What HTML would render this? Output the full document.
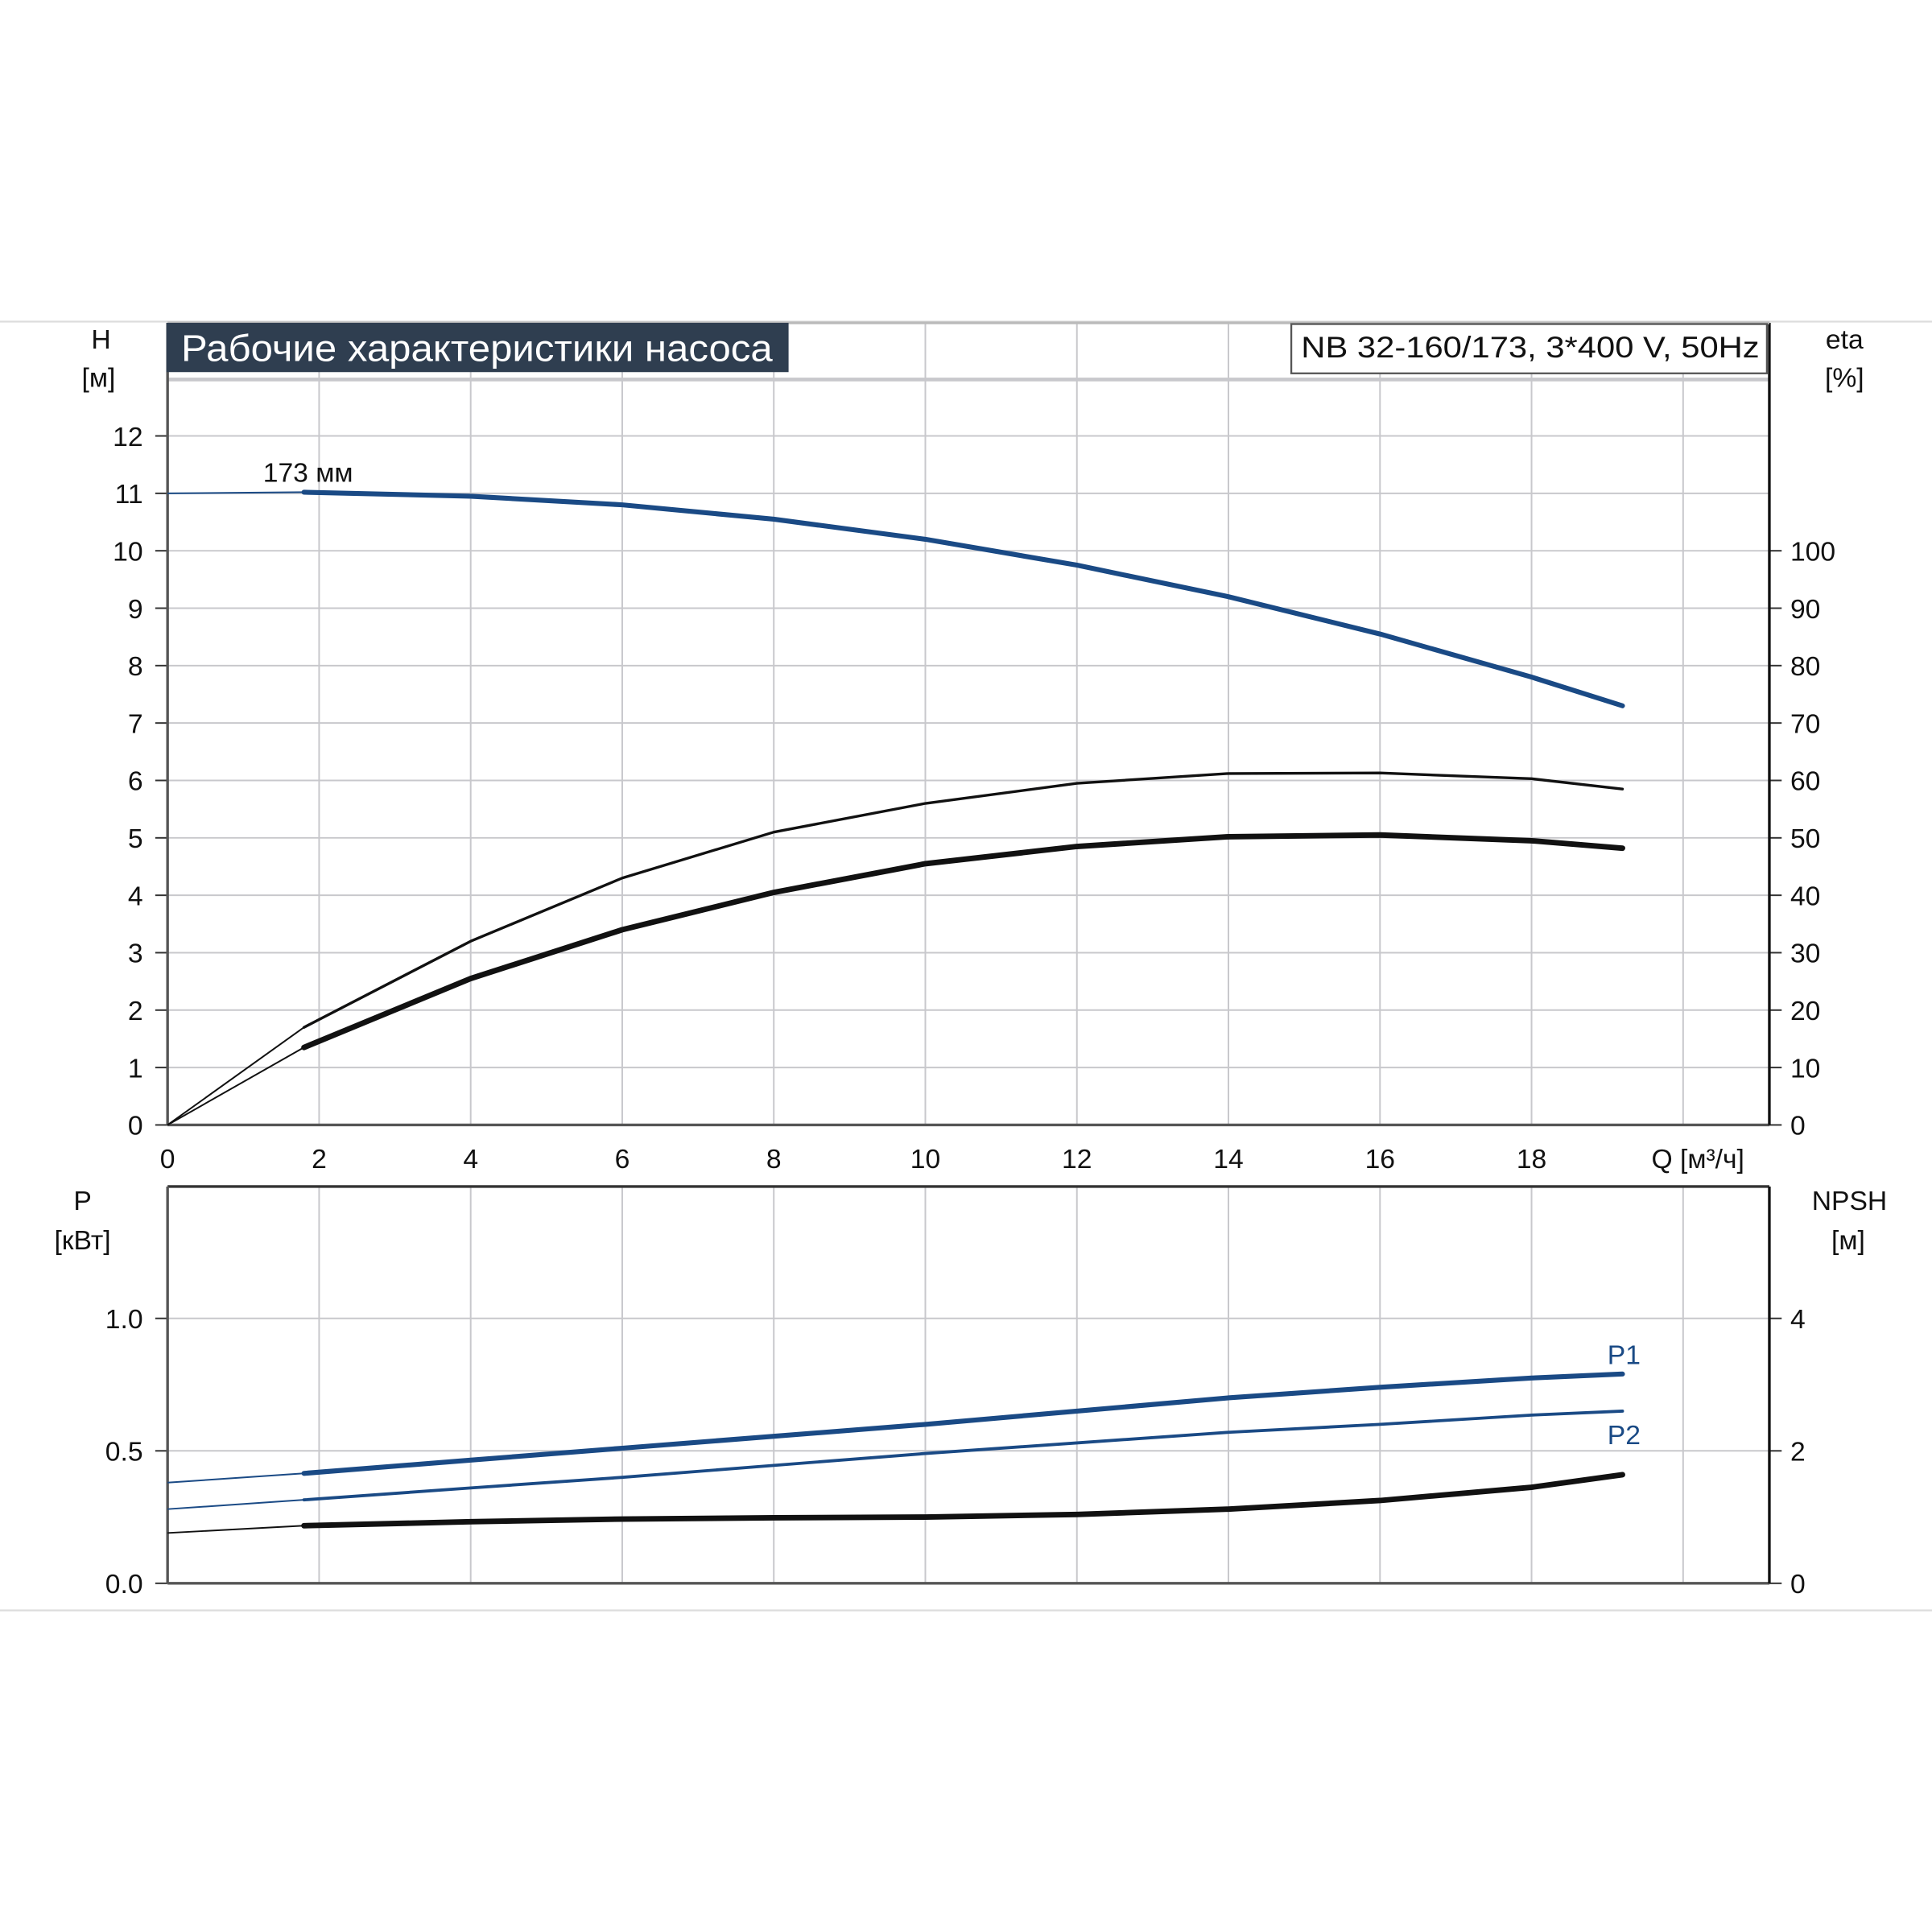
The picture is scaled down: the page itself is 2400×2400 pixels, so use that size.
<!DOCTYPE html>
<html><head><meta charset="utf-8"><style>
html,body{margin:0;padding:0;background:#fff}
svg{display:block}
text{font-family:"Liberation Sans",sans-serif;fill:#111}
</style></head><body>
<svg id="c" width="2400" height="2400" viewBox="0 0 1568 1568" xmlns="http://www.w3.org/2000/svg">
<line x1="0" y1="261" x2="1568" y2="261" stroke="#ddd" stroke-width="1.5"/>
<line x1="0" y1="1307" x2="1568" y2="1307" stroke="#ddd" stroke-width="1.5"/>
<g id="grid"></g>
<g id="curves"></g>
<g id="labels"></g>
<rect x="135" y="262" width="505" height="40" fill="#2f3e50"/>
<text x="147" y="293" font-size="30" style="fill:#fff" textLength="480" lengthAdjust="spacingAndGlyphs">Рабочие характеристики насоса</text>
<rect x="1048" y="263" width="386" height="40" fill="#fff" stroke="#555" stroke-width="1.5"/>
<text x="1056" y="290" font-size="24" textLength="372" lengthAdjust="spacingAndGlyphs">NB 32-160/173, 3*400 V, 50Hz</text>
</svg>
<script>
const qTicks=[0,2,4,6,8,10,12,14,16,18];
const hTicks=[0,1,2,3,4,5,6,7,8,9,10,11,12];
const etaTicks=[0,10,20,30,40,50,60,70,80,90,100];
const pTicks=[0.0,0.5,1.0];
const npshTicks=[0,2,4];
const qPts=[1.8,4,6,8,10,12,14,16,18,19.2];
const headVals=[11.02,10.95,10.8,10.55,10.2,9.75,9.2,8.55,7.8,7.3];
const etaPumpVals=[17,32,43,51,56,59.5,61.2,61.3,60.3,58.5];
const etaTotVals=[13.5,25.5,34,40.5,45.5,48.5,50.2,50.5,49.5,48.2];
const p1Vals=[0.415,0.465,0.51,0.555,0.6,0.65,0.7,0.74,0.775,0.79];
const p2Vals=[0.315,0.36,0.4,0.445,0.49,0.53,0.57,0.6,0.635,0.65];
const npshVals=[0.87,0.93,0.97,0.99,1.0,1.04,1.12,1.25,1.45,1.64];
const headStart=11.0, p1Start=0.38, p2Start=0.28, npshStart=0.76;

const X=q=>136+q*61.5;
const YH=h=>913-h*46.6;
const YE=e=>913-e*4.66;
const YP=p=>1285-p*215;
const YN=n=>1285-n*53.75;
const NS="http://www.w3.org/2000/svg";
function mk(tag,attrs,parent,txt){const e=document.createElementNS(NS,tag);for(const k in attrs)e.setAttribute(k,attrs[k]);if(txt!==undefined)e.textContent=txt;parent.appendChild(e);return e;}
const grid=document.getElementById('grid'),cur=document.getElementById('curves'),lab=document.getElementById('labels');
// vertical grid
for(let q=2;q<=20;q+=2){
  let l=mk('line',{x1:X(q),y1:262,x2:X(q),y2:913,stroke:'#c8c8cc','stroke-width':1.3},grid);
  
  
  let l2=mk('line',{x1:X(q),y1:963,x2:X(q),y2:1285,stroke:'#c8c8cc','stroke-width':1.3},grid);
  
  
}
hTicks.forEach(h=>{
  if(h>0){let l=mk('line',{x1:136,y1:YH(h),x2:1436,y2:YH(h),stroke:'#c8c8cc','stroke-width':1.3},grid);
  
  }
  let t=mk('line',{x1:126,y1:YH(h),x2:136,y2:YH(h),stroke:'#333','stroke-width':1.3},grid);
  
  
  let tx=mk('text',{x:116,y:YH(h)+8,'font-size':22,'text-anchor':'end'},lab,String(h));
  
  
});
etaTicks.forEach(e=>{
  let t=mk('line',{x1:1436,y1:YE(e),x2:1446,y2:YE(e),stroke:'#333','stroke-width':1.3},grid);
  
  
  let tx=mk('text',{x:1453,y:YE(e)+8,'font-size':22},lab,String(e));
  
  
});
let band=mk('line',{x1:136,y1:308,x2:1436,y2:308,stroke:'#c8c8cc','stroke-width':3},grid);


pTicks.forEach(p=>{
  if(p>0){let l=mk('line',{x1:136,y1:YP(p),x2:1436,y2:YP(p),stroke:'#c8c8cc','stroke-width':1.3},grid);
  
  }
  let t=mk('line',{x1:126,y1:YP(p),x2:136,y2:YP(p),stroke:'#333','stroke-width':1.3},grid);
  
  
  let tx=mk('text',{x:116,y:YP(p)+8,'font-size':22,'text-anchor':'end'},lab,p.toFixed(1));
  
  
});
npshTicks.forEach(n=>{
  let t=mk('line',{x1:1436,y1:YN(n),x2:1446,y2:YN(n),stroke:'#333','stroke-width':1.3},grid);
  
  
  let tx=mk('text',{x:1453,y:YN(n)+8,'font-size':22},lab,String(n));
  
  
});
qTicks.forEach(q=>{
  let tx=mk('text',{x:X(q),y:948,'font-size':22,'text-anchor':'middle'},lab,String(q));
  
  
});
// axes
[[136,262,136,913,'#555'],[136,913,1436,913,'#555'],[1436,262,1436,913,'#111'],[136,262,1436,262,'#bbb'],
 [136,963,1436,963,'#333'],[136,963,136,1285,'#555'],[136,1285,1436,1285,'#555'],[1436,963,1436,1285,'#111']].forEach(a=>{
  let l=mk('line',{x1:a[0],y1:a[1],x2:a[2],y2:a[3],stroke:a[4],'stroke-width':2.2},grid);
  
  
});
function path(ys,yf,start,color,w,name){
  let d='M'+qPts.map((q,i)=>X(q)+','+yf(ys[i])).join(' L');
  let p=mk('path',{d:d,fill:'none',stroke:color,'stroke-width':w,'stroke-linejoin':'round','stroke-linecap':'round'},cur);
  
  
  let s=mk('line',{x1:X(0),y1:yf(start),x2:X(qPts[0]),y2:yf(ys[0]),stroke:color,'stroke-width':1.3},cur);
  
  
}
path(headVals,YH,headStart,'#1a4a85',4,'head-curve');
path(etaPumpVals,YE,0,'#111',2.2,'eta-pump-curve');
path(etaTotVals,YE,0,'#111',4.5,'eta-total-curve');
path(p1Vals,YP,p1Start,'#1a4a85',4,'p1-curve');
path(p2Vals,YP,p2Start,'#1a4a85',2.5,'p2-curve');
path(npshVals,YN,npshStart,'#111',4.5,'npsh-curve');
const texts=[[82,283,'H','middle','h-axis-title'],[80,314,'[м]','middle','h-axis-unit'],[1497,283,'eta','middle','eta-axis-title'],[1497,314,'[%]','middle','eta-axis-unit'],
[1378,948,'Q [м³/ч]','middle','q-axis-title'],[67,982,'P','middle','p-axis-title'],[67,1014,'[кВт]','middle','p-axis-unit'],
[1501,982,'NPSH','middle','npsh-axis-title'],[1500,1014,'[м]','middle','npsh-axis-unit'],[250,391,'173 мм','middle','impeller-label']];
texts.forEach(t=>{
  let e=mk('text',{x:t[0],y:t[1],'font-size':22,'text-anchor':t[3]},lab,t[2]);
  
  
});
let a=mk('text',{x:1318,y:1107,'font-size':22,'text-anchor':'middle',style:'fill:#1a4a85'},lab,'P1');


let b=mk('text',{x:1318,y:1172,'font-size':22,'text-anchor':'middle',style:'fill:#1a4a85'},lab,'P2');


</script>
</body></html>
